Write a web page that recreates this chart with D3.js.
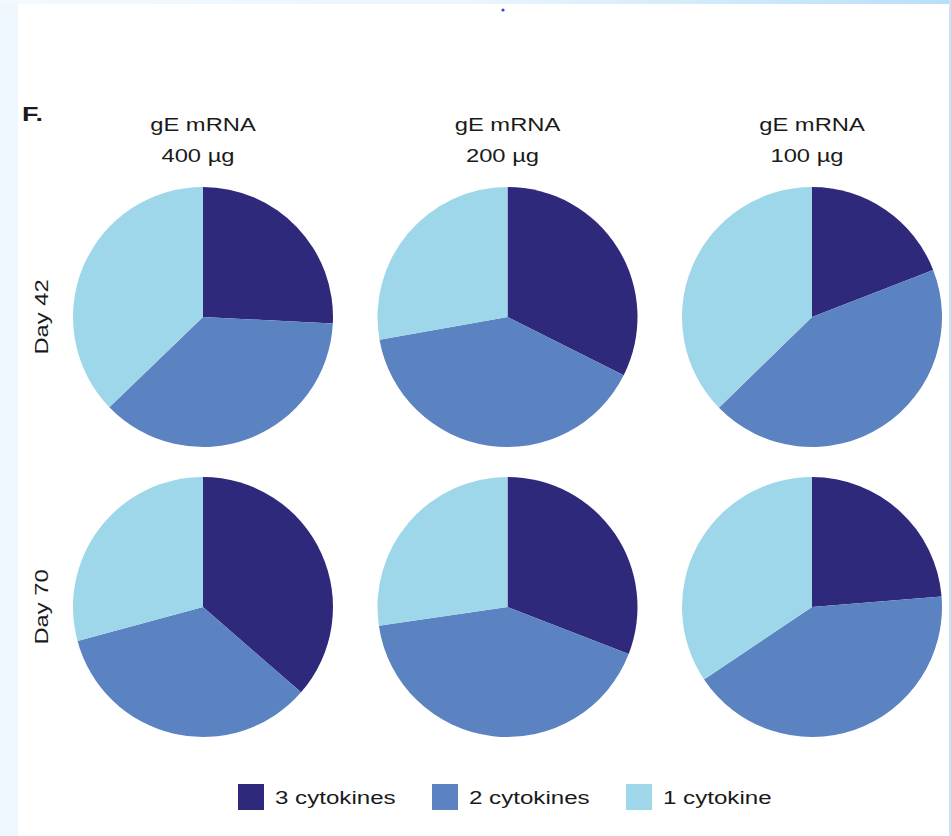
<!DOCTYPE html>
<html>
<head>
<meta charset="utf-8">
<script src="https://cdn.jsdelivr.net/npm/d3@7"></script>
<style>
  html, body { margin: 0; padding: 0; background: #ffffff; }
  svg { display: block; }
  text { font-family: "Liberation Sans", Arial, sans-serif; fill: #1a1a1a; }
</style>
</head>
<body>
<svg id="chart" width="951" height="836"></svg>
<script>
// Polyfunctional cytokine profiles per dose and time point (% of responding cells)
const doses = ["400 µg", "200 µg", "100 µg"];
const days = ["Day 42", "Day 70"];
const categories = ["3 cytokines", "2 cytokines", "1 cytokine"];
const colors = ["#2f297c", "#5b83c1", "#9ed7ea"];

// each row: [3 cytokines, 2 cytokines, 1 cytokine] for 400, 200, 100 µg
const day42 = [
  [25.8, 37.0, 37.2],
  [32.4, 39.8, 27.8],
  [19.1, 43.6, 37.3]
];
const day70 = [
  [36.4, 34.4, 29.2],
  [30.9, 41.8, 27.3],
  [23.7, 41.9, 34.4]
];
const seriesByDay = [day42, day70];

const svg = d3.select("#chart");
const W = 951, H = 836;

// page frame: pale side strip, gradient top band
const defs = svg.append("defs");
const grad = defs.append("linearGradient").attr("id", "topband").attr("x1", "0").attr("x2", "1");
grad.append("stop").attr("offset", "0").attr("stop-color", "#f3f9fe");
grad.append("stop").attr("offset", "0.5").attr("stop-color", "#eaf5fd");
grad.append("stop").attr("offset", "1").attr("stop-color", "#b8dff8");
svg.append("rect").attr("x", 0).attr("y", 0).attr("width", W).attr("height", H).attr("fill", "#ffffff");
svg.append("rect").attr("x", 0).attr("y", 0).attr("width", 18).attr("height", H).attr("fill", "#eef6fe");
svg.append("rect").attr("x", 0).attr("y", 0).attr("width", W).attr("height", 4).attr("fill", "url(#topband)");
svg.append("rect").attr("x", W - 2).attr("y", 0).attr("width", 2).attr("height", H).attr("fill", "#c4e5fa");
svg.append("circle").attr("cx", 503).attr("cy", 10).attr("r", 1.6).attr("fill", "#3b3bf2");

// text is set in a wide sans face: stretch along the reading direction
const SX = 1.25;
function label(parent, x, y, str, opts = {}) {
  const rot = opts.rotate || 0;
  return parent.append("text")
    .attr("transform", `translate(${x},${y}) rotate(${rot}) scale(${opts.sx || SX},1)`)
    .attr("text-anchor", opts.anchor || "middle")
    .style("font-size", (opts.size || 19) + "px")
    .style("font-weight", opts.weight || "normal")
    .text(str);
}

// grid of pies
const x = d3.scalePoint().domain(doses).range([203, 812]);
const y = d3.scalePoint().domain(days).range([317, 607]);
const radius = 130;

const pie = d3.pie().sort(null).value(d => d);
const arc = d3.arc().innerRadius(0).outerRadius(radius);
const color = d3.scaleOrdinal().domain(categories).range(colors);

days.forEach((day, r) => {
  doses.forEach((dose, c) => {
    const g = svg.append("g").attr("transform", `translate(${x(dose)},${y(day)})`);
    g.selectAll("path")
      .data(pie(seriesByDay[r][c]))
      .join("path")
      .attr("d", arc)
      .attr("fill", (d, i) => color(categories[i]));
  });
  label(svg, 48, y(day), day, { rotate: -90 });
});

// column headers
doses.forEach(dose => {
  label(svg, x(dose), 131, "gE mRNA");
  label(svg, x(dose) - 5, 162, dose);
});

// panel letter
label(svg, 22, 121, "F.", { anchor: "start", weight: "bold", size: 20, sx: 1.35 });

// legend
const legendX = [238, 432, 626];
const legend = svg.append("g");
categories.forEach((cat, i) => {
  legend.append("rect")
    .attr("x", legendX[i]).attr("y", 784)
    .attr("width", 26).attr("height", 26)
    .attr("fill", color(cat));
  label(legend, legendX[i] + 37, 804, cat, { anchor: "start", size: 19, sx: 1.27 });
});
</script>
</body>
</html>
